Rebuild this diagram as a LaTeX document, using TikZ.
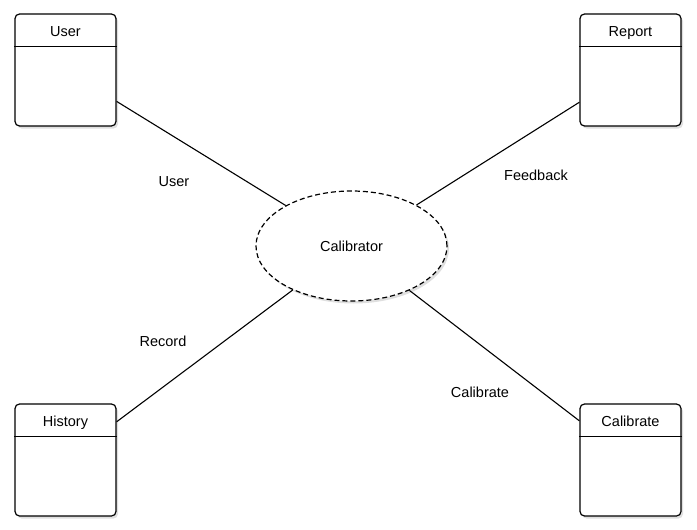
\documentclass[tikz,border=0pt]{standalone}
\usepackage{fontspec}
\setmainfont{Liberation Sans}
\usetikzlibrary{shapes.geometric,shadows}
\begin{document}
\begin{tikzpicture}[x=1pt,y=-1pt,
  font=\fontsize{14.5}{17}\selectfont,
  sh/.style={drop shadow={opacity=0.25,shadow xshift=2pt,shadow yshift=-2.5pt}},
  entity/.style={draw,line width=1.2pt,rounded corners=4.5pt,fill=white,sh,
    minimum width=101pt,minimum height=112pt,inner sep=0pt},
  proc/.style={ellipse,draw,line width=1.2pt,dash pattern=on 5pt off 3pt,fill=white,sh,
    minimum width=191pt,minimum height=110pt,inner sep=0pt},
  link/.style={line width=1.1pt},
  lbl/.style={inner sep=1pt,text height=14.5pt,text depth=3pt}]
\useasboundingbox (0,0) rectangle (697,530);
\node[entity] (user) at (65.5,70) {};
\node[entity] (report) at (630.5,70) {};
\node[entity] (history) at (65.5,460) {};
\node[entity] (calbox) at (630.5,460) {};
\node[proc] (calib) at (351.5,246) {};
\foreach \n in {user,report,history,calbox}{
  \draw[line width=1.1pt] ([yshift=-33pt]\n.north west) -- ([yshift=-33pt]\n.north east);
}
\node[lbl] (tuser) at ([yshift=-17pt]user.north) {User};
\node[lbl] (treport) at ([yshift=-17pt]report.north) {Report};
\node[lbl] (thistory) at ([yshift=-17pt]history.north) {History};
\node[lbl] (tcal) at ([yshift=-17pt]calbox.north) {Calibrate};
\node[lbl] (tcalib) at (351.5,246) {Calibrator};
\draw[link] (user) -- (calib);
\draw[link] (report) -- (calib);
\draw[link] (history) -- (calib);
\draw[link] (calbox) -- (calib);
\node[lbl] (l1) at (174,181) {User};
\node[lbl] (l2) at (536,175) {Feedback};
\node[lbl] (l3) at (163,341) {Record};
\node[lbl] (l4) at (480,392) {Calibrate};
\end{tikzpicture}
\end{document}
